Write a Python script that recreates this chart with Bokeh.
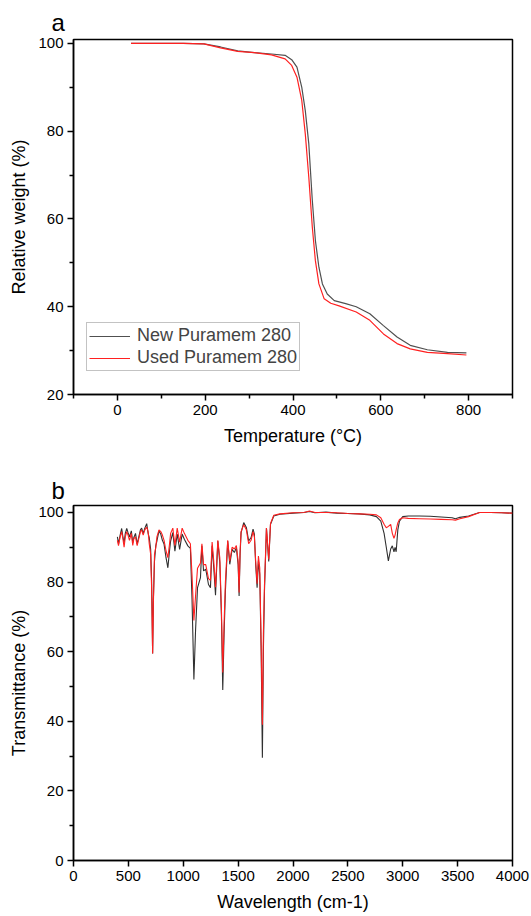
from bokeh.plotting import figure
from bokeh.layouts import column
from bokeh.models import FixedTicker, Legend, LegendItem, Range1d
from bokeh.embed import file_html
from bokeh.resources import INLINE

FONT = "Liberation Sans"

# ---- Panel a: TGA ----
tga_temp_new = [31, 100, 150, 197, 235, 274, 312, 351, 382, 397, 409, 420, 428, 436, 444,
                451, 459, 467, 478, 494, 520, 544, 575, 606, 637, 667, 706, 752, 795]
tga_new = [100, 100, 100, 99.9, 99.2, 98.3, 97.9, 97.6, 97.3, 96.3, 94.6, 90.0, 84.7, 77.1, 64.2,
           55.1, 49.0, 45.2, 42.9, 41.4, 40.7, 40.0, 38.4, 35.7, 33.1, 31.2, 30.2, 29.6, 29.5]
tga_temp_used = [31, 100, 150, 197, 235, 274, 312, 351, 382, 397, 409, 420, 428, 436, 444,
                 451, 459, 471, 486, 505, 544, 575, 606, 637, 667, 706, 752, 795]
tga_used = [100, 100, 100, 99.9, 99.0, 98.2, 97.9, 97.4, 96.5, 95.0, 92.3, 87.0, 79.4, 69.5, 58.1,
            50.5, 45.2, 41.8, 40.8, 40.2, 38.8, 36.9, 33.8, 31.6, 30.4, 29.6, 29.3, 29.0]
tga_xticks = [0, 200, 400, 600, 800]
tga_xminor = [-100, 100, 300, 500, 700, 900]
tga_yticks = [20, 40, 60, 80, 100]
tga_yminor = [30, 50, 70, 90]

# ---- Panel b: FTIR ----
wave = [400, 410, 425, 439, 450, 461, 472, 485, 497, 510, 527, 540, 550, 565, 580, 595, 610, 621,
        635, 650, 667, 680, 690, 703, 712, 721, 728, 738, 750, 760, 779, 795, 810, 825, 843, 860,
        875, 885, 905, 924, 945, 967, 990, 1010, 1042, 1065, 1080, 1097, 1112, 1130, 1157, 1170,
        1185, 1205, 1230, 1248, 1263, 1278, 1294, 1315, 1333, 1348, 1360, 1372, 1384, 1405, 1424,
        1445, 1466, 1484, 1500, 1509, 1518, 1527, 1551, 1575, 1596, 1618, 1636, 1648, 1660, 1673,
        1685, 1697, 1710, 1721, 1730, 1740, 1758, 1779, 1795, 1825, 1880, 2000, 2100, 2150, 2200,
        2300, 2400, 2500, 2600, 2700, 2760, 2800, 2830, 2850, 2869, 2890, 2905, 2920, 2930, 2940,
        2955, 2970, 3000, 3050, 3150, 3250, 3350, 3450, 3480, 3520, 3600, 3700, 3800, 3900, 4000]
trans_new = [93.0, 91.0, 93.5, 95.4, 93.0, 91.3, 94.0, 95.4, 94.2, 93.0, 94.7, 91.3, 92.8, 94.0,
             90.9, 93.0, 95.0, 95.5, 93.9, 95.5, 96.8, 94.0, 92.8, 89.4, 80.0, 59.5, 75.0, 86.0,
             90.5, 91.8, 94.7, 93.8, 92.0, 90.9, 87.0, 84.1, 89.0, 91.8, 94.2, 88.9, 93.8, 89.4,
             93.8, 92.3, 90.4, 89.7, 75.0, 52.0, 66.0, 78.4, 81.3, 90.4, 83.2, 83.7, 79.3, 78.4,
             90.4, 84.1, 76.2, 91.8, 85.6, 70.0, 49.0, 65.0, 77.4, 91.8, 85.1, 89.4, 88.5, 89.9,
             85.0, 76.0, 88.0, 94.2, 97.1, 95.7, 91.8, 92.8, 95.2, 93.8, 85.0, 78.4, 86.1, 82.2,
             60.0, 29.5, 60.0, 77.4, 95.5, 85.9, 96.6, 99.0, 99.5, 99.8, 100.0, 100.3, 99.9, 100.1,
             99.8, 99.7, 99.6, 99.3, 98.8, 97.5, 94.0, 90.0, 86.1, 89.5, 90.4, 88.7, 90.0, 88.7,
             95.0, 97.5, 98.8, 99.0, 99.0, 98.9, 98.7, 98.5, 98.2, 98.6, 99.0, 100.0, 100.0, 99.9, 99.8]
trans_used = [92.0, 90.5, 93.0, 94.5, 92.5, 90.0, 93.0, 94.5, 93.5, 92.0, 94.0, 90.5, 92.5, 93.0,
              90.5, 92.5, 94.5, 95.0, 93.5, 95.0, 95.8, 94.5, 91.0, 88.0, 78.0, 59.5, 74.0, 88.0,
              90.0, 93.0, 95.0, 94.5, 93.5, 92.0, 89.0, 87.0, 91.0, 94.0, 95.5, 90.5, 95.5, 91.5,
              95.5, 94.0, 92.0, 91.0, 82.0, 69.0, 76.0, 84.0, 85.5, 91.0, 85.0, 85.0, 81.0, 80.5,
              91.5, 86.0, 78.5, 92.0, 87.0, 72.0, 54.0, 68.0, 80.0, 92.0, 86.0, 90.0, 89.5, 90.5,
              86.0, 77.0, 89.0, 94.5, 96.5, 95.0, 91.0, 92.0, 94.5, 93.0, 86.0, 79.5, 87.5, 84.0,
              62.0, 39.0, 65.0, 79.0, 95.5, 86.5, 96.8, 99.2, 99.6, 99.9, 100.0, 100.4, 100.0, 100.0,
              99.9, 99.7, 99.6, 99.5, 99.3, 98.5, 96.6, 95.6, 96.0, 96.6, 94.0, 92.6, 93.5, 95.0,
              97.0, 98.0, 98.5, 98.3, 98.2, 98.1, 98.0, 97.9, 97.8, 98.2, 98.8, 100.0, 100.0, 99.9, 99.8]
ir_xticks = [0, 500, 1000, 1500, 2000, 2500, 3000, 3500, 4000]
ir_yticks = [0, 20, 40, 60, 80, 100]
ir_yminor = [10, 30, 50, 70, 90]

GRAY = "#505050"
DARK = "#303030"
RED = "#ff2020"


def style(p, xlabel, ylabel, panel, standoff):
    p.grid.visible = False
    p.outline_line_color = "black"
    p.outline_line_width = 1.5
    p.background_fill_color = "white"
    p.border_fill_color = "white"
    for ax in (p.xaxis[0], p.yaxis[0]):
        ax.axis_line_width = 1.5
        ax.axis_line_color = "black"
        ax.major_tick_line_width = 1.5
        ax.minor_tick_line_width = 1.5
        ax.major_tick_out = 6
        ax.major_tick_in = 0
        ax.minor_tick_out = 4
        ax.minor_tick_in = 0
        ax.major_label_text_font = FONT
        ax.major_label_text_font_size = "15px"
        ax.major_label_text_color = "black"
        ax.axis_label_text_font = FONT
        ax.axis_label_text_font_size = "18px"
        ax.axis_label_text_font_style = "normal"
        ax.axis_label_text_color = "black"
        ax.major_label_standoff = 4
    p.xaxis[0].axis_label = xlabel
    p.yaxis[0].axis_label = ylabel
    p.xaxis[0].axis_label_standoff = 8
    p.yaxis[0].axis_label_standoff = 6
    p.title.text = panel
    p.title.align = "left"
    p.title.offset = -22
    p.title.text_font = FONT
    p.title.text_font_size = "24px"
    p.title.text_font_style = "normal"
    p.title.text_color = "black"
    p.title.standoff = standoff


# Top figure
p1 = figure(width=531, height=458, output_backend="svg", toolbar_location=None,
            x_range=Range1d(-100, 900), y_range=Range1d(20, 100.9),
            min_border_left=73, min_border_right=19, min_border_top=39, min_border_bottom=64)
style(p1, "Temperature (°C)", "Relative weight (%)", "a", 7)
p1.xaxis[0].ticker = FixedTicker(ticks=tga_xticks, minor_ticks=tga_xminor)
p1.yaxis[0].ticker = FixedTicker(ticks=tga_yticks, minor_ticks=tga_yminor)
r_new = p1.line(tga_temp_new, tga_new, line_color=GRAY, line_width=1.2)
r_used = p1.line(tga_temp_used, tga_used, line_color=RED, line_width=1.2)
leg = Legend(items=[LegendItem(label="New Puramem 280", renderers=[r_new]),
                    LegendItem(label="Used Puramem 280", renderers=[r_used])],
             location=(13, 23), label_text_font=FONT, label_text_font_size="18px",
             glyph_width=41, glyph_height=20, label_height=20, spacing=1, padding=2,
             margin=0, label_standoff=7, border_line_color="#888888", border_line_width=1,
             background_fill_alpha=1.0)
p1.add_layout(leg, "center")

# Bottom figure
p2 = figure(width=531, height=458, output_backend="svg", toolbar_location=None,
            x_range=Range1d(0, 4000), y_range=Range1d(0, 102),
            min_border_left=73, min_border_right=19, min_border_top=47, min_border_bottom=56)
style(p2, "Wavelength (cm-1)", "Transmittance (%)", "b", 3)
p2.xaxis[0].ticker = FixedTicker(ticks=ir_xticks, minor_ticks=[])
p2.yaxis[0].ticker = FixedTicker(ticks=ir_yticks, minor_ticks=ir_yminor)
p2.line(wave, trans_new, line_color=DARK, line_width=1.1)
p2.line(wave, trans_used, line_color=RED, line_width=1.1)

layout = column(p1, p2, spacing=0)
open("out.html", "w").write(file_html(layout, INLINE))
